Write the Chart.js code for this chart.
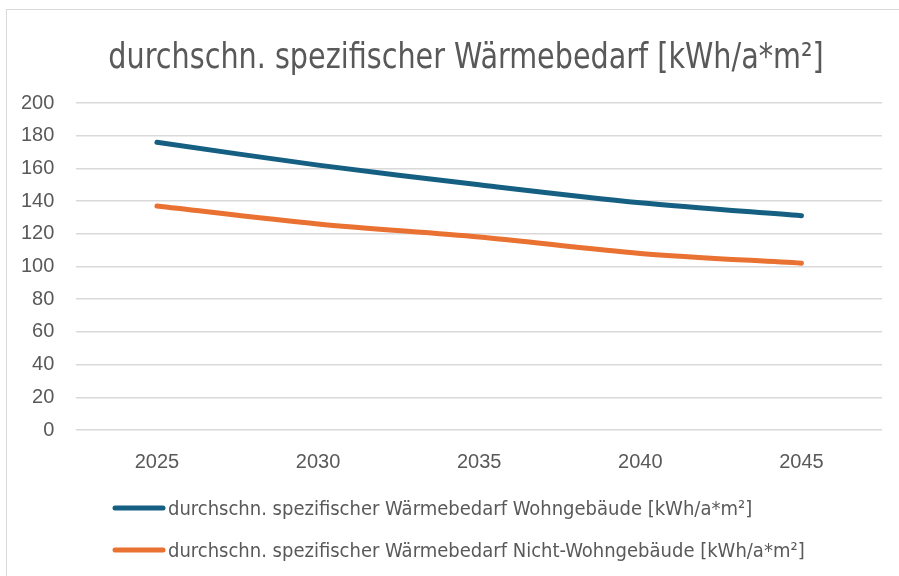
<!DOCTYPE html>
<html>
<head>
<meta charset="utf-8">
<script src="https://cdn.jsdelivr.net/npm/chart.js@4"></script>
<style>
    body { margin: 0; background: #fff; }
    #frame { position: absolute; left: 6px; top: 9px; width: 1000px; height: 700px; border: 1px solid #d9d9d9; }
    #chart { display: block; }
</style>
</head>
<body>
<div id="frame"><canvas id="chart" width="892" height="566"></canvas></div>
<script>
// chart data
const years = ['2025', '2030', '2035', '2040', '2045'];
const wohnValues = [176, 162, 150, 139, 131];
const nichtWohnValues = [137, 126, 118, 108, 102];
const yTicks = [0, 20, 40, 60, 80, 100, 120, 140, 160, 180, 200];
const chartTitle = 'durchschn. spezifischer Wärmebedarf [kWh/a*m²]';

const narrowFont = "'DejaVu Sans Condensed', 'Liberation Sans Narrow', sans-serif";
const tickFont = "'Liberation Sans', Arial, sans-serif";
const textColor = '#595959';

// draws a horizontally squeezed text, to mimic the narrow Office font
function narrowText(ctx, text, x, y, squeeze, align) {
    ctx.save();
    ctx.translate(x, y);
    ctx.scale(squeeze, 1);
    ctx.textAlign = align;
    ctx.fillText(text, 0, 0);
    ctx.restore();
}

// title and legend drawn by hand, since the office layout differs from chart.js defaults
const officeDecor = {
    id: 'officeDecor',
    afterDraw(chart) {
        const ctx = chart.ctx;
        ctx.save();
        ctx.fillStyle = textColor;
        ctx.textBaseline = 'alphabetic';
        ctx.font = '35px ' + narrowFont;
        narrowText(ctx, chartTitle, 459, 58, 0.91, 'center');

        let y = chart.height - 68;
        ctx.font = '20px ' + narrowFont;
        chart.data.datasets.forEach(function(ds) {
            ctx.strokeStyle = ds.borderColor;
            ctx.lineWidth = 5;
            ctx.lineCap = 'round';
            ctx.beginPath();
            ctx.moveTo(108, y);
            ctx.lineTo(156, y);
            ctx.stroke();
            ctx.fillStyle = textColor;
            narrowText(ctx, ds.label, 161, y + 7, 1, 'left');
            y += 42;
        });
        ctx.restore();
    }
};

const ctx = document.getElementById('chart').getContext('2d');
new Chart(ctx, {
    type: 'line',
    data: {
        labels: years,
        datasets: [{
            label: 'durchschn. spezifischer Wärmebedarf Wohngebäude [kWh/a*m²]',
            data: wohnValues,
            borderColor: '#156082',
            borderWidth: 5,
            borderCapStyle: 'round',
            pointRadius: 0,
            tension: 0.3
        }, {
            label: 'durchschn. spezifischer Wärmebedarf Nicht-Wohngebäude [kWh/a*m²]',
            data: nichtWohnValues,
            borderColor: '#E97132',
            borderWidth: 5,
            borderCapStyle: 'round',
            pointRadius: 0,
            tension: 0.3
        }]
    },
    options: {
        responsive: false,
        animation: false,
        layout: { padding: { left: -8, right: 17, top: 93, bottom: 90 } },
        plugins: {
            legend: { display: false },
            tooltip: { enabled: false },
            title: { display: false }
        },
        scales: {
            x: {
                offset: true,
                grid: { display: false },
                border: { display: false },
                ticks: { color: textColor, font: { family: tickFont, size: 20 }, padding: 12 }
            },
            y: {
                min: 0,
                max: 200,
                afterBuildTicks(scale) {
                    scale.ticks = yTicks.map(v => ({ value: v }));
                },
                grid: { color: '#d9d9d9', lineWidth: 1.5, drawTicks: false },
                border: { display: false },
                ticks: { color: textColor, font: { family: tickFont, size: 20 }, padding: 22 }
            }
        }
    },
    plugins: [officeDecor]
});
</script>
</body>
</html>
